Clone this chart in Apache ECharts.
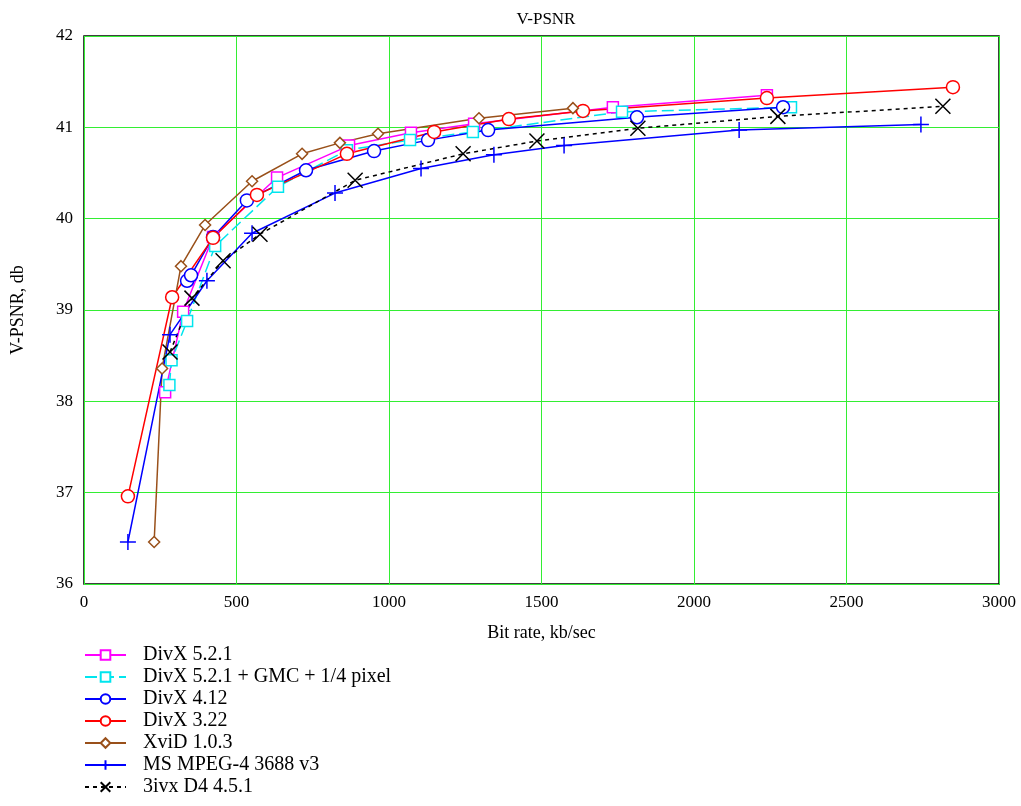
<!DOCTYPE html>
<html>
<head>
<meta charset="utf-8">
<script src="https://cdn.jsdelivr.net/npm/echarts@6/dist/echarts.min.js"></script>
<style>
  html, body { margin: 0; padding: 0; background: #fff; }
  #main { width: 1021px; height: 806px; }
</style>
</head>
<body>
<div id="main"></div>
<script>
// bit rate (kb/sec) and V-PSNR (db)
const divx521Rate = [266, 325, 423, 633, 869, 1072, 1279, 1734, 2239];
const divx521Psnr = [38.10, 38.98, 39.80, 40.45, 40.80, 40.94, 41.04, 41.22, 41.35];

const divx521gmcRate = [280, 287, 338, 430, 636, 862, 1069, 1275, 1764, 2318];
const divx521gmcPsnr = [38.18, 38.45, 38.88, 39.70, 40.35, 40.75, 40.86, 40.95, 41.17, 41.22];

const divx412Rate = [338, 351, 423, 534, 728, 951, 1128, 1325, 1813, 2292];
const divx412Psnr = [39.32, 39.38, 39.80, 40.20, 40.53, 40.74, 40.86, 40.97, 41.11, 41.22];

const divx322Rate = [144, 289, 423, 567, 862, 1148, 1393, 1636, 2239, 2849];
const divx322Psnr = [36.96, 39.14, 39.79, 40.26, 40.71, 40.95, 41.09, 41.18, 41.32, 41.44];

const xvidRate = [230, 256, 318, 397, 551, 715, 839, 964, 1295, 1603];
const xvidPsnr = [36.46, 38.36, 39.48, 39.93, 40.41, 40.71, 40.83, 40.93, 41.10, 41.21];

const msmpegRate = [144, 282, 403, 551, 823, 1105, 1344, 1574, 2148, 2744];
const msmpegPsnr = [36.46, 38.73, 39.32, 39.84, 40.28, 40.55, 40.70, 40.80, 40.97, 41.03];

const ivxRate = [282, 354, 456, 577, 889, 1243, 1485, 1816, 2275, 2816];
const ivxPsnr = [38.54, 39.13, 39.54, 39.83, 40.42, 40.71, 40.85, 40.99, 41.12, 41.23];

const xTicks = [0, 500, 1000, 1500, 2000, 2500, 3000];
const yTicks = [36, 37, 38, 39, 40, 41, 42];

const plusPath = 'path://M0,-10L0,10M-10,0L10,0';
const crossPath = 'path://M-10,-10L10,10M10,-10L-10,10';

function pairs(xs, ys) {
  return xs.map((x, i) => [x, ys[i]]);
}

function mkSeries(name, xs, ys, color, symbol, size, dash) {
  return {
    name: name,
    type: 'line',
    data: pairs(xs, ys),
    symbol: symbol,
    symbolSize: size,
    showAllSymbol: true,
    lineStyle: { color: color, width: 1.5, type: dash || 'solid' },
    itemStyle: { color: symbol.startsWith('path') ? 'rgba(0,0,0,0)' : '#fff', borderColor: color, borderWidth: 1.5 },
    emphasis: { disabled: true },
    animation: false
  };
}

const myChart = echarts.init(document.getElementById('main'));
const serif = '"Liberation Serif", "DejaVu Serif", serif';

myChart.setOption({
  backgroundColor: '#fff',
  textStyle: { fontFamily: serif },
  title: {
    text: 'V-PSNR',
    left: 541, top: 6, textAlign: 'center',
    textStyle: { fontFamily: serif, fontWeight: 'normal', fontSize: 17, color: '#000' }
  },
  grid: {
    left: 84, right: 22, top: 36, bottom: 222,
    outerBoundsMode: 'none',
    show: true, borderColor: '#000', borderWidth: 1.5, backgroundColor: 'transparent'
  },
  xAxis: {
    type: 'value', min: 0, max: 3000, interval: 500,
    name: 'Bit rate, kb/sec', nameLocation: 'middle', nameGap: 40,
    nameTextStyle: { fontFamily: serif, fontSize: 18, color: '#000' },
    axisLine: { show: false },
    axisTick: { show: false },
    axisLabel: { fontFamily: serif, fontSize: 17, color: '#000', margin: 10,
      formatter: v => xTicks.includes(v) ? String(v) : '' },
    splitLine: { lineStyle: { color: '#33ee33', width: 1 } }
  },
  yAxis: {
    type: 'value', min: 36, max: 42, interval: 1,
    name: 'V-PSNR, db', nameLocation: 'middle', nameGap: 57,
    nameTextStyle: { fontFamily: serif, fontSize: 18, color: '#000' },
    axisLine: { show: false },
    axisTick: { show: false },
    axisLabel: { fontFamily: serif, fontSize: 17, color: '#000', margin: 11,
      formatter: v => yTicks.includes(v) ? String(v) : '' },
    splitLine: { lineStyle: { color: '#33ee33', width: 1 } }
  },
  legend: {
    orient: 'vertical', left: 84, top: 645, itemGap: 2, padding: 0,
    itemWidth: 41, itemHeight: 12,
    textStyle: { fontFamily: serif, fontSize: 20, color: '#000', padding: [0, 0, 0, 12] },
    data: ['DivX 5.2.1', 'DivX 5.2.1 + GMC + 1/4 pixel', 'DivX 4.12', 'DivX 3.22',
           'XviD 1.0.3', 'MS MPEG-4 3688 v3', '3ivx D4 4.5.1']
  },
  series: [
    mkSeries('DivX 5.2.1', divx521Rate, divx521Psnr, '#ff00ff', 'rect', 11),
    mkSeries('DivX 5.2.1 + GMC + 1/4 pixel', divx521gmcRate, divx521gmcPsnr, '#00e5ee', 'rect', 11, [12, 5]),
    mkSeries('DivX 4.12', divx412Rate, divx412Psnr, '#0000ff', 'circle', 13),
    mkSeries('DivX 3.22', divx322Rate, divx322Psnr, '#ff0000', 'circle', 13),
    mkSeries('XviD 1.0.3', xvidRate, xvidPsnr, '#99501a', 'diamond', 11),
    mkSeries('MS MPEG-4 3688 v3', msmpegRate, msmpegPsnr, '#0000ff', plusPath, 16),
    mkSeries('3ivx D4 4.5.1', ivxRate, ivxPsnr, '#000000', crossPath, 15, [4, 4])
  ]
});
</script>
</body>
</html>
